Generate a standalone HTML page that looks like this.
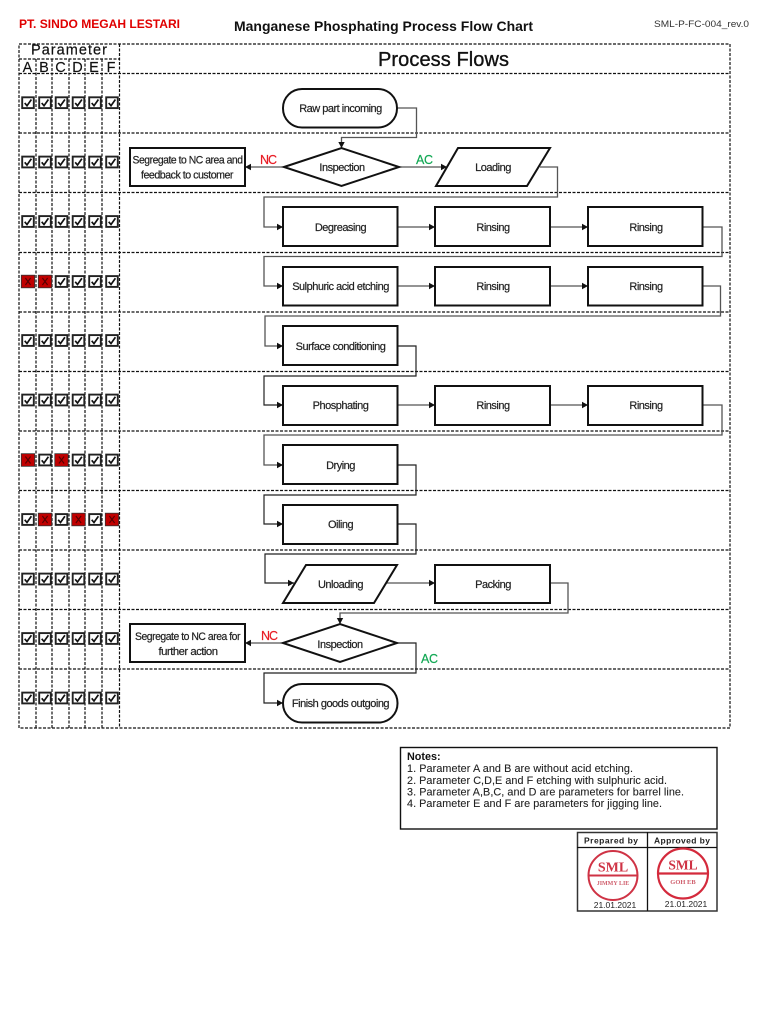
<!DOCTYPE html>
<html><head><meta charset="utf-8"><style>
html,body{margin:0;padding:0;background:#fff}
svg{display:block}
text{font-family:"Liberation Sans",sans-serif;fill:#111}
.n{font-size:11px;text-anchor:middle;letter-spacing:-.5px;fill:#222;stroke:#222;stroke-width:.2}
.b{fill:#fff;stroke:#111;stroke-width:2}
.d{stroke:#111;stroke-width:1.2;stroke-dasharray:3 1.5;fill:none}
.c{stroke:#555;stroke-width:1.3;fill:none}
.k{stroke:#222;stroke-width:1.2;fill:none}
.a{fill:#111}
.nt{font-size:10.8px;fill:#222;stroke:#222;stroke-width:.1}
</style></head><body>
<svg xmlns="http://www.w3.org/2000/svg" width="768" height="1024" viewBox="0 0 768 1024">
<defs>
<g id="c"><rect x="-5.8" y="-5.4" width="11.600" height="10.800" fill="#fff" stroke="#222" stroke-width="1.900"/><path d="M-3.300 0.300L-1 3L3.400-3.200" fill="none" stroke="#111" stroke-width="1.700"/></g>
<g id="x"><rect x="-6.700" y="-6.300" width="13.400" height="12.600" fill="#c00000" stroke="#333" stroke-width=".8"/><path d="M-2.600-3.500L2.600 3.500M2.600-3.500L-2.600 3.500" stroke="#500" stroke-width="1.100"/></g>
<g id="r"><use href="#c" x="28"/><use href="#c" x="45"/><use href="#c" x="61.500"/><use href="#c" x="78.500"/><use href="#c" x="95"/><use href="#c" x="112"/></g>
<path id="h" d="M0 0L-6-3.200V3.200Z"/>
</defs>

<!-- header -->
<text x="19" y="28" font-size="12" font-weight="700" style="fill:#e00000" textLength="161" lengthAdjust="spacingAndGlyphs">PT. SINDO MEGAH LESTARI</text>
<text x="234" y="31" font-size="14" font-weight="700" textLength="299" lengthAdjust="spacingAndGlyphs">Manganese Phosphating Process Flow Chart</text>
<text x="654" y="27" font-size="9.500" textLength="95" lengthAdjust="spacingAndGlyphs" style="fill:#333">SML-P-FC-004_rev.0</text>

<!-- table -->
<path class="d" d="M19 44H730V728H19ZM19 59H119.500M19 73.500H730M19 133H730M19 192.500H730M19 252.500H730M19 312H730M19 371.500H730M19 431H730M19 490.500H730M19 550H730M19 609.500H730M19 669H730"/>
<path class="d" d="M36 59V728M52 59V728M69 59V728M85 59V728M102 59V728M119.500 44V728"/>
<text x="31" y="54.500" font-size="14.500" textLength="76" stroke="#111" stroke-width=".2">Parameter</text>
<g font-size="14.500" text-anchor="middle" stroke="#111" stroke-width=".15"><text x="27.500" y="72">A</text><text x="44" y="72">B</text><text x="60.500" y="72">C</text><text x="77.500" y="72">D</text><text x="94" y="72">E</text><text x="111" y="72">F</text></g>
<text x="378" y="66" font-size="20" textLength="131" stroke="#111" stroke-width=".35">Process Flows</text>

<!-- checks -->
<use href="#r" y="102.700"/>
<use href="#r" y="162"/>
<use href="#r" y="221.500"/>
<g transform="translate(0 281.500)"><use href="#x" x="28"/><use href="#x" x="45"/><use href="#c" x="61.500"/><use href="#c" x="78.500"/><use href="#c" x="95"/><use href="#c" x="112"/></g>
<use href="#r" y="340.500"/>
<use href="#r" y="400"/>
<g transform="translate(0 460)"><use href="#x" x="28"/><use href="#c" x="45"/><use href="#x" x="61.500"/><use href="#c" x="78.500"/><use href="#c" x="95"/><use href="#c" x="112"/></g>
<g transform="translate(0 519.500)"><use href="#c" x="28"/><use href="#x" x="45"/><use href="#c" x="61.500"/><use href="#x" x="78.500"/><use href="#c" x="95"/><use href="#x" x="112"/></g>
<use href="#r" y="579"/>
<use href="#r" y="638.500"/>
<use href="#r" y="698"/>

<!-- connectors -->
<path class="c" d="M397 108H416.500V137.500H341.500V148"/>
<path class="c" d="M399 167H447M540 167H557.500V197H264V227H283"/>
<path class="c" d="M284 167H245"/>
<path class="c" d="M397 227H435M550 227H588M702 227H722V256.500H264V286H283"/>
<path class="c" d="M397 286H435M550 286H588M702 286H720.500V316H265V346H283"/>
<path class="k" d="M397 346H416V376H264V405H283"/>
<path class="c" d="M397 405H435M550 405H588M702 405H722V435H264V465H283"/>
<path class="k" d="M397 465H416V495H264V524H283"/>
<path class="k" d="M397 524H416V554H265V583H294"/>
<path class="c" d="M386 583H435M550 583H568V613H340V624"/>
<path class="c" d="M283 643H245"/>
<path class="k" d="M397 643H416V673H264V703H283"/>

<!-- arrowheads -->
<use class="a" href="#h" transform="translate(341.500 148) rotate(90)"/>
<use class="a" href="#h" transform="translate(447 167)"/>
<use class="a" href="#h" transform="translate(245 167) rotate(180)"/>
<use class="a" href="#h" transform="translate(283 227)"/>
<use class="a" href="#h" transform="translate(435 227)"/>
<use class="a" href="#h" transform="translate(588 227)"/>
<use class="a" href="#h" transform="translate(283 286)"/>
<use class="a" href="#h" transform="translate(435 286)"/>
<use class="a" href="#h" transform="translate(588 286)"/>
<use class="a" href="#h" transform="translate(283 346)"/>
<use class="a" href="#h" transform="translate(283 405)"/>
<use class="a" href="#h" transform="translate(435 405)"/>
<use class="a" href="#h" transform="translate(588 405)"/>
<use class="a" href="#h" transform="translate(283 465)"/>
<use class="a" href="#h" transform="translate(283 524)"/>
<use class="a" href="#h" transform="translate(294 583)"/>
<use class="a" href="#h" transform="translate(435 583)"/>
<use class="a" href="#h" transform="translate(340 624) rotate(90)"/>
<use class="a" href="#h" transform="translate(245 643) rotate(180)"/>
<use class="a" href="#h" transform="translate(283 703)"/>

<!-- nodes -->
<rect class="b" x="283" y="89" width="114" height="38.500" rx="19" ry="19"/>
<text class="n" x="340.500" y="112">Raw part incoming</text>

<rect class="b" x="130" y="148" width="115" height="38"/>
<text class="n" x="187.500" y="163.500" textLength="110" lengthAdjust="spacingAndGlyphs">Segregate to NC area and</text>
<text class="n" x="187" y="178.500" textLength="92" lengthAdjust="spacingAndGlyphs">feedback to customer</text>

<path class="b" d="M284 167L341.500 148L399 167L341.500 186Z"/>
<text class="n" x="342" y="171">Inspection</text>

<path class="b" d="M458 148H550L527 186H436Z"/>
<text class="n" x="493" y="171">Loading</text>

<rect class="b" x="283" y="207" width="114.500" height="39"/><text class="n" x="340.500" y="231">Degreasing</text>
<rect class="b" x="435" y="207" width="115" height="39"/><text class="n" x="493" y="231">Rinsing</text>
<rect class="b" x="588" y="207" width="114.500" height="39"/><text class="n" x="646" y="231">Rinsing</text>

<rect class="b" x="283" y="267" width="114.500" height="38.500"/><text class="n" x="340.500" y="290">Sulphuric acid etching</text>
<rect class="b" x="435" y="267" width="115" height="38.500"/><text class="n" x="493" y="290">Rinsing</text>
<rect class="b" x="588" y="267" width="114.500" height="38.500"/><text class="n" x="646" y="290">Rinsing</text>

<rect class="b" x="283" y="326" width="114.500" height="39"/><text class="n" x="340.500" y="350">Surface conditioning</text>

<rect class="b" x="283" y="386" width="114.500" height="39"/><text class="n" x="340.500" y="409">Phosphating</text>
<rect class="b" x="435" y="386" width="115" height="39"/><text class="n" x="493" y="409">Rinsing</text>
<rect class="b" x="588" y="386" width="114.500" height="39"/><text class="n" x="646" y="409">Rinsing</text>

<rect class="b" x="283" y="445" width="114.500" height="39"/><text class="n" x="340.500" y="469">Drying</text>
<rect class="b" x="283" y="505" width="114.500" height="39"/><text class="n" x="340.500" y="528">Oiling</text>

<path class="b" d="M306 565H397L374 603H283Z"/>
<text class="n" x="340.500" y="588">Unloading</text>
<rect class="b" x="435" y="565" width="115" height="38"/><text class="n" x="493" y="588">Packing</text>

<rect class="b" x="130" y="624" width="115" height="38"/>
<text class="n" x="187.500" y="640" textLength="105" lengthAdjust="spacingAndGlyphs">Segregate to NC area for</text>
<text class="n" x="188" y="655" textLength="59" lengthAdjust="spacingAndGlyphs">further action</text>

<path class="b" d="M283 643L340 624L397 643L340 662Z"/>
<text class="n" x="340" y="648">Inspection</text>

<rect class="b" x="283" y="684" width="114.500" height="38.500" rx="19" ry="19"/>
<text class="n" x="340.500" y="707">Finish goods outgoing</text>

<!-- labels -->
<text x="260" y="164" font-size="12.500" style="fill:#e81c24;stroke:#e81c24;stroke-width:.2" textLength="17">NC</text>
<text x="416" y="164" font-size="12.500" style="fill:#12a854;stroke:#12a854;stroke-width:.2" textLength="17">AC</text>
<text x="261" y="640" font-size="12.500" style="fill:#e81c24;stroke:#e81c24;stroke-width:.2" textLength="17">NC</text>
<text x="421" y="663" font-size="12.500" style="fill:#12a854;stroke:#12a854;stroke-width:.2" textLength="17">AC</text>

<!-- notes -->
<rect x="400.500" y="747.500" width="316.500" height="81.500" fill="#fff" stroke="#111" stroke-width="1.400"/>
<text x="407" y="760" font-size="10.800" font-weight="700">Notes:</text>
<text class="nt" x="407" y="772" textLength="226">1. Parameter A and B are without acid etching.</text>
<text class="nt" x="407" y="784" textLength="260">2. Parameter C,D,E and F etching with sulphuric acid.</text>
<text class="nt" x="407" y="795.500" textLength="277">3. Parameter A,B,C, and D are parameters for barrel line.</text>
<text class="nt" x="407" y="807" textLength="255">4. Parameter E and F are parameters for jigging line.</text>

<!-- signature -->
<rect x="577.500" y="832.500" width="139.500" height="78.500" fill="#fff" stroke="#333" stroke-width="1.500"/>
<path d="M577 847.500H717M647.500 832V911" stroke="#111" stroke-width="1.300" fill="none"/>
<text x="584" y="843.500" font-size="8.500" font-weight="700" textLength="54" style="fill:#222">Prepared by</text>
<text x="654" y="843.500" font-size="8.500" font-weight="700" textLength="56" style="fill:#222">Approved by</text>

<circle cx="613" cy="875.500" r="24.500" fill="none" stroke="#cf3345" stroke-width="2"/>
<path d="M588.500 875.500H637.500" stroke="#cf3345" stroke-width="2"/>
<text x="613" y="871.500" font-size="14" font-weight="700" text-anchor="middle" style="font-family:'Liberation Serif',serif;fill:#cf3345">SML</text>
<text x="613" y="885" font-size="6" font-weight="700" text-anchor="middle" style="font-family:'Liberation Serif',serif;fill:#d0606e">JIMMY LIE</text>
<text x="615" y="908" font-size="8.500" text-anchor="middle" style="fill:#222">21.01.2021</text>

<circle cx="683" cy="873.500" r="25" fill="none" stroke="#d42a3c" stroke-width="2.200"/>
<path d="M658 873.500H708" stroke="#d42a3c" stroke-width="2.200"/>
<text x="683" y="869.500" font-size="13.500" font-weight="700" text-anchor="middle" style="font-family:'Liberation Serif',serif;fill:#cf3345">SML</text>
<text x="683" y="884" font-size="6.500" font-weight="700" text-anchor="middle" style="font-family:'Liberation Serif',serif;fill:#d0606e">GOH EB</text>
<text x="686" y="907" font-size="8.500" text-anchor="middle" style="fill:#222">21.01.2021</text>
</svg>
</body></html>
